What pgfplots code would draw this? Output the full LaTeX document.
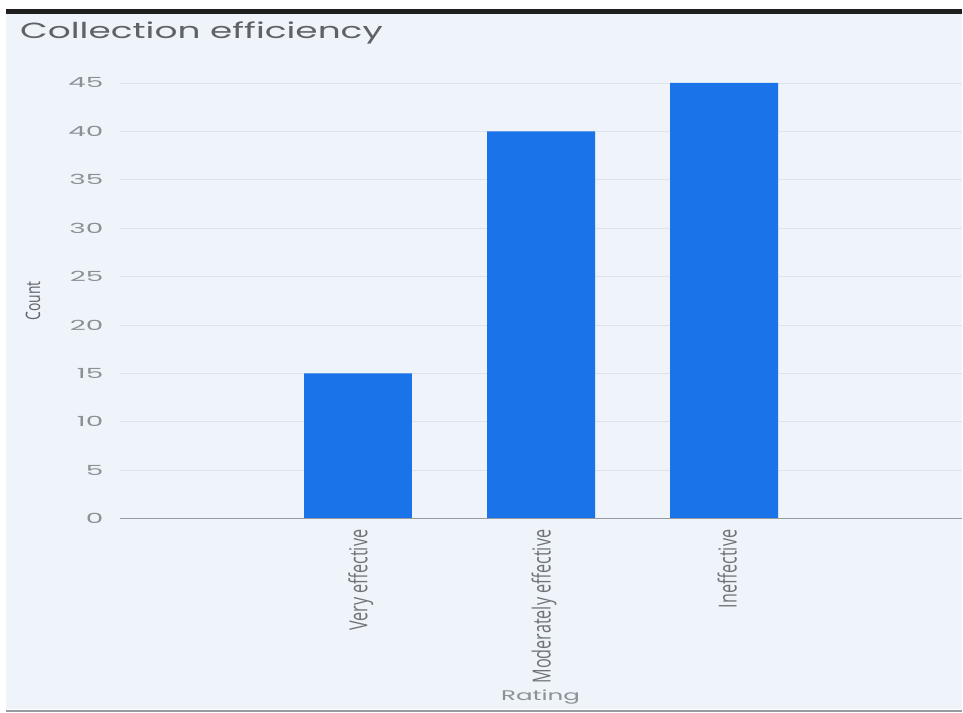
\documentclass[border=0pt]{standalone}
\usepackage{pgfplots}
\pgfplotsset{compat=1.18}
\usepackage{fontspec}
\setmainfont{Open Sans}
\newfontfamily\tf{Poppins}[FakeStretch=1.64]
\newfontfamily\wf{Poppins}[FakeStretch=2.0]
\newfontfamily\rf{Poppins}[FakeStretch=1.76]
\newfontfamily\cf{Open Sans}[FakeStretch=0.65]
\newfontfamily\cff{Open Sans}[FakeStretch=0.7]
\definecolor{bgc}{RGB}{239,243,250}
\definecolor{barc}{RGB}{26,115,232}
\definecolor{gridc}{RGB}{222,226,233}
\definecolor{axc}{RGB}{150,155,162}
\definecolor{titc}{RGB}{95,99,104}
\definecolor{tickc}{RGB}{140,145,150}
\begin{document}
\begin{tikzpicture}[x=1bp,y=1bp]
\fill[white] (0,0) rectangle (963,713);
\fill[bgc] (6,3) rectangle (963,700);
\fill[black!88] (6,699) rectangle (963,704);
\fill[axc] (6,0.5) rectangle (963,2);
\node[anchor=west, inner sep=0, text=titc, font=\tf\fontsize{22}{26}\selectfont] at (20,680) {Collection efficiency};
\node[rotate=90, inner sep=0, text=titc, font=\cff\fontsize{20}{22}\selectfont] at (33,412) {Count};
\node[inner sep=0, text=tickc, font=\rf\fontsize{14}{16}\selectfont] at (541,15) {Rating};
\begin{axis}[
  at={(120bp,194bp)}, anchor=south west,
  scale only axis, width=843bp, height=445.7bp,
  xmin=-1.3, xmax=3.3, ymin=0, ymax=46,
  ybar, bar width=108bp,
  axis line style={draw=none},
  major tick length=0pt,
  ymajorgrids, grid style={gridc, line width=0.8bp},
  ytick={0,5,...,45},
  xtick={0,1,2},
  xticklabels={Very effective, Moderately effective, Ineffective},
  x tick label style={rotate=90, anchor=east, text=tickc!80!black, font=\cf\fontsize{25}{26}\selectfont, inner sep=2bp, xshift=-9bp, yshift=-3bp},
  y tick label style={text=tickc, font=\wf\fontsize{14}{16}\selectfont, xshift=-13bp},
  /pgf/number format/assume math mode=true,
  clip=false,
]
\addplot[fill=barc, draw=none] coordinates {(0,15) (1,40) (2,45)};
\draw[axc, line width=1.5bp] (axis cs:-1.3,0) -- (axis cs:3.3,0);
\end{axis}
\end{tikzpicture}
\end{document}
